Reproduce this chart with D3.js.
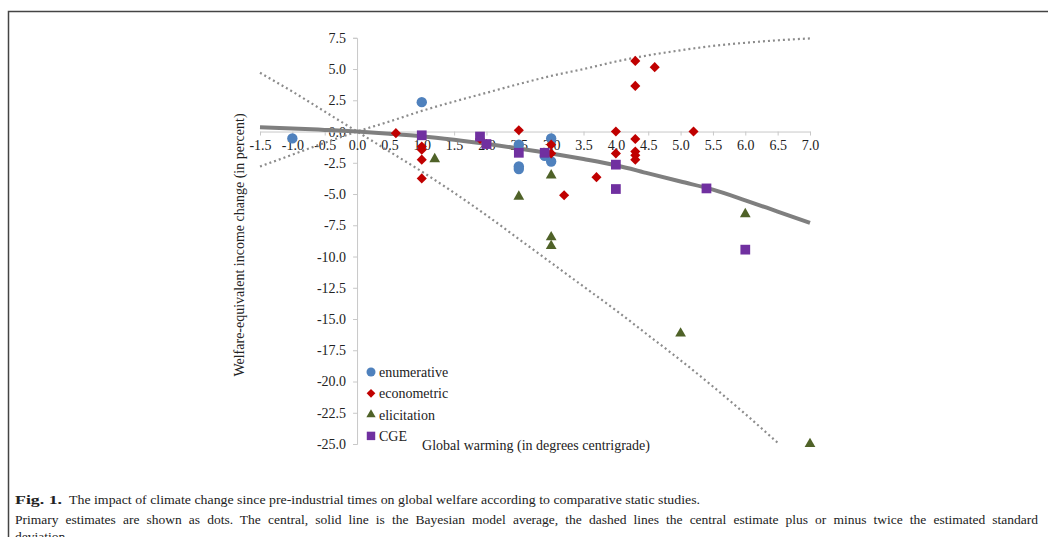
<!DOCTYPE html>
<html>
<head>
<meta charset="utf-8">
<script src="https://cdn.jsdelivr.net/npm/d3@7"></script>
<style>
  html, body { margin: 0; padding: 0; background: #fff; overflow: hidden; }
  svg { display: block; }
</style>
</head>
<body>
<div id="chart"></div>
<script>
// warming (deg C) vs welfare change (%)
const enumerative = [[-1.0, -0.55], [1.0, 2.35], [2.5, -1.05], [2.5, -2.8], [2.5, -3.0], [2.9, -1.95], [3.0, -0.55], [3.0, -2.4]];
const econometric = [[0.6, -0.13], [1.0, -1.2], [1.0, -1.45], [1.0, -2.25], [1.0, -3.75], [1.9, -0.6], [2.0, -1.0], [2.5, 0.1],
  [3.0, -1.05], [3.0, -1.75], [3.2, -5.1], [3.7, -3.65], [4.0, 0.0], [4.0, -1.75], [4.3, 5.65], [4.3, 3.65],
  [4.3, -0.6], [4.3, -1.6], [4.3, -1.9], [4.3, -2.25], [4.6, 5.15], [5.2, 0.0]];
const elicitation = [[1.2, -2.2], [2.5, -5.2], [3.0, -3.5], [3.0, -8.45], [3.0, -9.15], [5.0, -16.15], [6.0, -6.6], [7.0, -25.0]];
const cge = [[1.0, -0.3], [1.9, -0.4], [2.0, -1.0], [2.5, -1.7], [2.9, -1.7], [4.0, -2.65], [4.0, -4.6], [5.4, -4.55], [6.0, -9.45]];

// Bayesian model average and +/- 2 sd bands
const curveX = [-1.5, -1.0, -0.5, 0, 0.5, 1.0, 1.5, 2.0, 2.5, 3.0, 3.5, 4.0, 4.5, 5.0, 5.5, 6.0, 6.5, 7.0];
const central = [0.35, 0.25, 0.13, 0, -0.17, -0.37, -0.65, -0.98, -1.35, -1.75, -2.2, -2.7, -3.35, -4.0, -4.65, -5.5, -6.4, -7.3];
const upper = [-2.8, -1.85, -0.9, 0, 0.8, 1.65, 2.4, 3.1, 3.8, 4.45, 5.0, 5.6, 6.1, 6.5, 6.85, 7.1, 7.3, 7.45];
const lower = [4.7, 3.2, 1.6, 0, -1.6, -3.2, -4.9, -6.7, -8.6, -10.5, -12.4, -14.3, -16.3, -18.3, -20.4, -22.6, -24.9, null];

const xTicks = d3.range(-1.5, 7.01, 0.5);
const yTicks = d3.range(7.5, -25.01, -2.5);

const legendLabels = ['enumerative', 'econometric', 'elicitation', 'CGE'];

(function() {
  'use strict';

  const width = 1048;
  const height = 537;
  const serif = '"Liberation Serif", "DejaVu Serif", serif';
  // plain hyphen for negatives, like the original
  const fmt = d => d.toFixed(1);

  const svg = d3.select('#chart').append('svg')
    .attr('width', width)
    .attr('height', height);

  // frame
  svg.append('path')
    .attr('d', `M8.5,${height} V11.5 H${width}`)
    .attr('fill', 'none')
    .attr('stroke', '#444')
    .attr('stroke-width', 1.5);

  const x = d3.scaleLinear().domain([-1.5, 7]).range([260, 810]);
  const y = d3.scaleLinear().domain([-25, 7.5]).range([444, 37.8]);

  // y axis
  const yAxis = svg.append('g')
    .attr('transform', `translate(${x(0)},0)`)
    .call(d3.axisLeft(y).tickValues(yTicks).tickFormat(fmt).tickSize(4).tickPadding(7));
  yAxis.select('.domain').attr('stroke', '#c8c8c8');
  yAxis.selectAll('.tick line').attr('stroke', '#c8c8c8');
  yAxis.selectAll('text').attr('font-family', serif).attr('font-size', 14).attr('fill', '#222');

  // x axis crossing at zero
  const xAxis = svg.append('g')
    .attr('transform', `translate(0,${y(0)})`)
    .call(d3.axisBottom(x).tickValues(xTicks).tickFormat(fmt).tickSize(4).tickPadding(5).tickSizeOuter(0));
  xAxis.select('.domain').attr('stroke', '#c8c8c8');
  xAxis.selectAll('.tick line').attr('stroke', '#c8c8c8');
  xAxis.selectAll('text').attr('font-family', serif).attr('font-size', 14).attr('fill', '#222');

  // curves
  const line = d3.line()
    .defined(d => d[1] !== null)
    .x(d => x(d[0]))
    .y(d => y(d[1]))
    .curve(d3.curveMonotoneX);

  [upper, lower].forEach(vals => {
    svg.append('path')
      .datum(curveX.map((cx, i) => [cx, vals[i]]))
      .attr('d', line)
      .attr('fill', 'none')
      .attr('stroke', '#8c8c8c')
      .attr('stroke-width', 2.2)
      .attr('stroke-dasharray', '2,3');
  });

  svg.append('path')
    .datum(curveX.map((cx, i) => [cx, central[i]]))
    .attr('d', line)
    .attr('fill', 'none')
    .attr('stroke', '#7f7f7f')
    .attr('stroke-width', 4);

  // markers
  const series = [
    { data: enumerative, color: '#4f81bd', symbol: d3.symbolCircle, size: 85 },
    { data: econometric, color: '#c00000', symbol: d3.symbolDiamond2, size: 65 },
    { data: elicitation, color: '#4f6228', symbol: d3.symbolTriangle, size: 50 },
    { data: cge, color: '#7030a0', symbol: d3.symbolSquare, size: 95 }
  ];

  series.forEach(s => {
    svg.append('g').selectAll('path')
      .data(s.data)
      .join('path')
      .attr('transform', d => `translate(${x(d[0])},${y(d[1])})`)
      .attr('d', d3.symbol().type(s.symbol).size(s.size))
      .attr('fill', s.color);
  });

  // legend
  const legend = svg.append('g').attr('transform', 'translate(371,372)');
  series.forEach((s, i) => {
    const row = legend.append('g').attr('transform', `translate(0,${i * 21.3})`);
    row.append('path')
      .attr('d', d3.symbol().type(s.symbol).size(s.size * 0.75))
      .attr('fill', s.color);
    row.append('text')
      .attr('x', 8)
      .attr('y', 5)
      .attr('font-family', serif)
      .attr('font-size', 14)
      .attr('fill', '#222')
      .text(legendLabels[i]);
  });

  // axis titles
  svg.append('text')
    .attr('x', 536)
    .attr('y', 450)
    .attr('text-anchor', 'middle')
    .attr('font-family', serif)
    .attr('font-size', 14)
    .attr('fill', '#222')
    .text('Global warming (in degrees centrigrade)');

  svg.append('text')
    .attr('transform', 'translate(244,245) rotate(-90)')
    .attr('text-anchor', 'middle')
    .attr('font-family', serif)
    .attr('font-size', 14)
    .attr('fill', '#222')
    .text('Welfare-equivalent income change (in percent)');

  // caption
  const cap = svg.append('g')
    .attr('font-family', serif)
    .attr('font-size', 13.5)
    .attr('fill', '#222');

  cap.append('text')
    .attr('x', 15).attr('y', 504)
    .attr('font-weight', 'bold')
    .attr('textLength', 47)
    .attr('lengthAdjust', 'spacingAndGlyphs')
    .text('Fig. 1.');
  cap.append('text')
    .attr('x', 69).attr('y', 504)
    .attr('textLength', 631)
    .attr('lengthAdjust', 'spacingAndGlyphs')
    .text('The impact of climate change since pre-industrial times on global welfare according to comparative static studies.');

  // justified line: spread the gap over the word spaces
  const line2 = cap.append('text')
    .attr('x', 15).attr('y', 524)
    .text('Primary estimates are shown as dots. The central, solid line is the Bayesian model average, the dashed lines the central estimate plus or minus twice the estimated standard');
  const natural = line2.node().getComputedTextLength();
  if (natural > 1023) {
    line2.attr('textLength', 1023).attr('lengthAdjust', 'spacingAndGlyphs');
  } else {
    const gaps = line2.text().split(' ').length - 1;
    line2.attr('word-spacing', (1023 - natural) / gaps);
  }

  cap.append('text')
    .attr('x', 15).attr('y', 541)
    .text('deviation.');
})();
</script>
</body>
</html>
